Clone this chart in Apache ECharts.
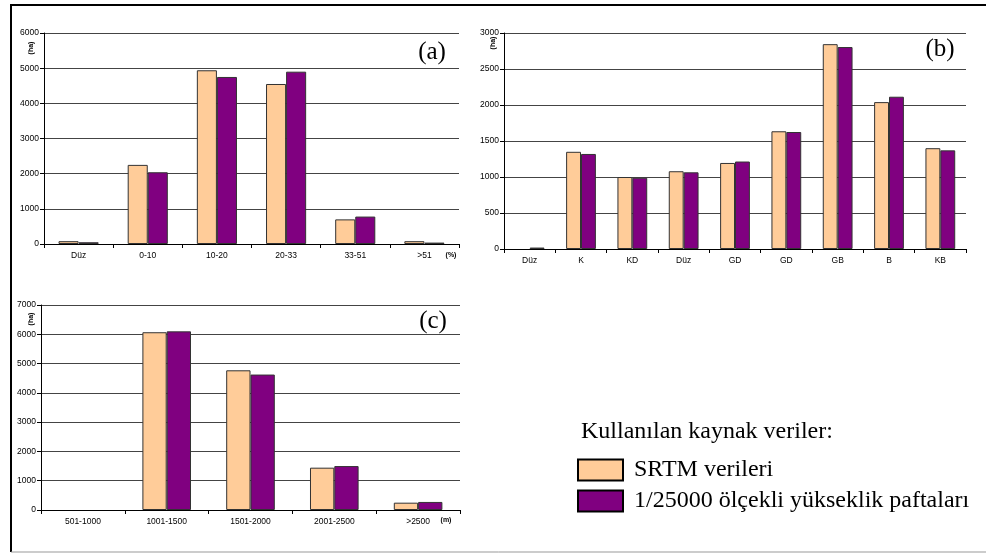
<!DOCTYPE html>
<html><head><meta charset="utf-8">
<script src="https://cdn.jsdelivr.net/npm/echarts@6/dist/echarts.min.js"></script>
<style>html,body{margin:0;padding:0;background:#fff}#c{width:986px;height:553px}</style>
</head><body><div id="c"></div>
<script>
const catA = ['Düz','0-10','10-20','20-33','33-51','>51'];
const srtmA = [80,2250,4940,4550,700,80];
const topoA = [50,2040,4750,4900,780,40];
const catB = ['Düz','K','KD','Düz','GD','GD','GB','B','KB'];
const srtmB = [0,1350,1000,1080,1195,1635,2845,2040,1400];
const topoB = [20,1320,990,1065,1215,1625,2805,2115,1370];
const catC = ['501-1000','1001-1500','1501-2000','2001-2500','>2500'];
const srtmC = [0,6070,4770,1445,250];
const topoC = [0,6100,4625,1500,275];
const nameS = 'SRTM verileri';
const nameT = '1/25000 ölçekli yükseklik paftaları';

const chart = echarts.init(document.getElementById('c'), null, {renderer:'canvas'});
const sans = 'Liberation Sans, Arial, sans-serif';
const serif = 'Liberation Serif, Times New Roman, serif';
function xAx(idx, data){
  return {type:'category', gridIndex:idx, data:data,
    axisLine:{lineStyle:{color:'#000',width:1}},
    axisTick:{show:true,length:4,lineStyle:{color:'#000'}},
    axisLabel:{fontSize:8.5,fontFamily:sans,color:'#000',margin:7},
    splitLine:{show:false}};
}
function yAx(idx, max, step){
  return {type:'value', gridIndex:idx, min:0, max:max, interval:step,
    axisLine:{show:true,lineStyle:{color:'#000',width:1}},
    axisTick:{show:true,length:4,lineStyle:{color:'#000'}},
    axisLabel:{fontSize:8.5,fontFamily:sans,color:'#000',margin:5, formatter:v => String(v)},
    splitLine:{show:true,lineStyle:{color:'#444',width:1}}};
}
const nz = d => d.map(v => v === 0 ? null : v);
function bars(idx, d1, d2, gap){
  const base = {type:'bar', xAxisIndex:idx, yAxisIndex:idx, barGap:'0%', barCategoryGap:gap, animation:false};
  return [
    Object.assign({}, base, {name:nameS, data:nz(d1), itemStyle:{color:'#FFCC99',borderColor:'#333',borderWidth:1}}),
    Object.assign({}, base, {name:nameT, data:nz(d2), itemStyle:{color:'#800080',borderColor:'#333',borderWidth:1}})
  ];
}
const txt = (x,y,t,o) => Object.assign({type:'text', x:x, y:y, style:Object.assign({text:t, fill:'#000', font:'25px '+serif, textAlign:'center', textVerticalAlign:'middle'}, o||{})});
const ha = (x,y) => ({type:'text', x:x, y:y, rotation:Math.PI/2, style:{text:'(ha)', fill:'#000', font:'bold 7px '+sans, textAlign:'center', textVerticalAlign:'middle'}});

chart.setOption({
  animation:false,
  grid:[
    {left:44, right:527, top:33, bottom:309},
    {left:504, right:20, top:33, bottom:304},
    {left:41, right:526, top:305, bottom:43}
  ],
  xAxis:[xAx(0,catA), xAx(1,catB), xAx(2,catC)],
  yAxis:[yAx(0,6000,1000), yAx(1,3000,500), yAx(2,7000,1000)],
  series:[].concat(bars(0,srtmA,topoA,'42%'), bars(1,srtmB,topoB,'42%'), bars(2,srtmC,topoC,'42%')),
  legend:{
    data:[nameS, nameT], orient:'vertical', left:577, top:458, padding:0,
    itemWidth:45, itemHeight:21, itemGap:7, icon:'rect',
    itemStyle:{borderColor:'#000', borderWidth:2},
    textStyle:{fontFamily:serif, fontSize:24, color:'#000', padding:[0,0,0,6], lineHeight:21},
    selectedMode:false
  },
  graphic:[
    {type:'line', shape:{x1:11, y1:4, x2:11, y2:552}, style:{stroke:'#000', lineWidth:2}},
    {type:'line', shape:{x1:10, y1:5, x2:986, y2:5}, style:{stroke:'#000', lineWidth:2}},
    {type:'line', shape:{x1:11, y1:552, x2:986, y2:552}, style:{stroke:'#999', lineWidth:1}},
    txt(432,52,'(a)'), txt(940,49,'(b)'), txt(433,321,'(c)'),
    ha(31,48), ha(493,43), ha(31,319),
    {type:'text', x:451, y:255, style:{text:'(%)', fill:'#000', font:'bold 7px '+sans, textAlign:'center', textVerticalAlign:'middle'}},
    {type:'text', x:446, y:520, style:{text:'(m)', fill:'#000', font:'bold 7px '+sans, textAlign:'center', textVerticalAlign:'middle'}},
    {type:'text', x:581, y:432, style:{text:'Kullanılan kaynak veriler:', fill:'#000', font:'24px '+serif, textAlign:'left', textVerticalAlign:'middle'}}
  ]
});
</script></body></html>
